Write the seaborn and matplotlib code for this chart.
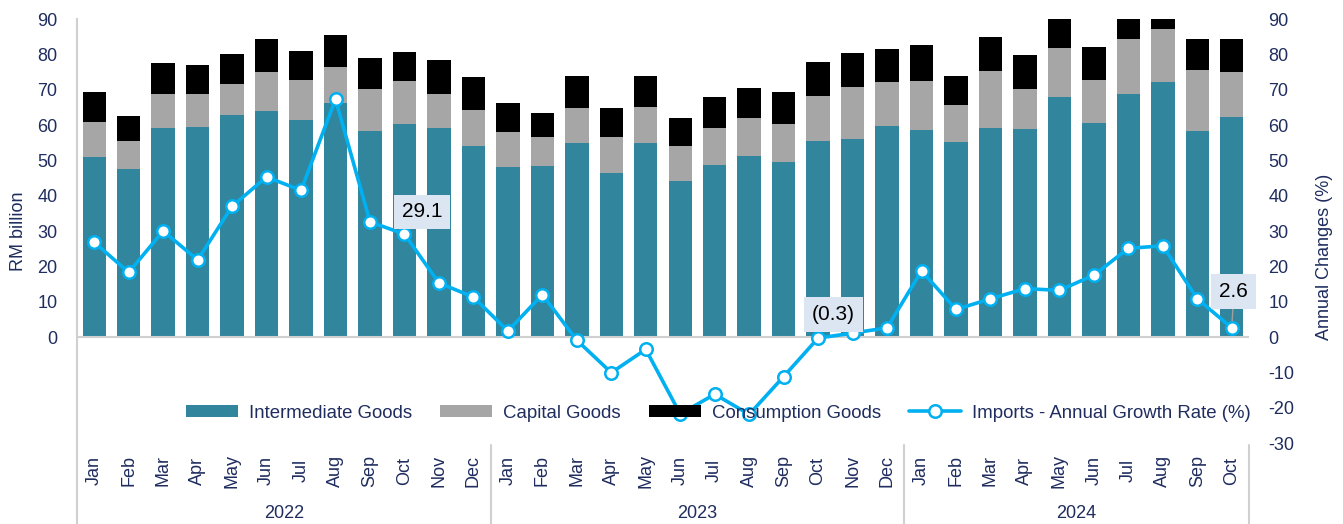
import matplotlib
matplotlib.use("Agg")
import matplotlib.pyplot as plt
import matplotlib.transforms as mtransforms
from matplotlib.patches import Patch
from matplotlib.lines import Line2D
import numpy as np
import pandas as pd
import seaborn as sns

# ---------------- data ----------------
months = ["Jan", "Feb", "Mar", "Apr", "May", "Jun", "Jul", "Aug", "Sep", "Oct", "Nov", "Dec",
          "Jan", "Feb", "Mar", "Apr", "May", "Jun", "Jul", "Aug", "Sep", "Oct", "Nov", "Dec",
          "Jan", "Feb", "Mar", "Apr", "May", "Jun", "Jul", "Aug", "Sep", "Oct"]
years = ["2022", "2023", "2024"]
year_counts = [12, 12, 10]

intermediate = [51.0, 47.5, 59.2, 59.5, 62.8, 63.9, 61.5, 66.2, 58.4, 60.3, 59.2, 54.1,
                48.2, 48.5, 55.0, 46.5, 55.0, 44.2, 48.8, 51.3, 49.5, 55.6, 55.9, 59.8,
                58.6, 55.3, 59.2, 59.0, 67.9, 60.7, 68.9, 72.2, 58.4, 62.4]
capital = [9.9, 8.0, 9.5, 9.3, 8.9, 11.1, 11.2, 10.2, 11.7, 12.1, 9.7, 10.1,
           9.7, 8.0, 9.7, 10.1, 10.0, 9.8, 10.4, 10.8, 10.9, 12.7, 14.8, 12.4,
           13.8, 10.3, 16.2, 11.1, 14.0, 12.0, 15.3, 14.9, 17.1, 12.5]
consumption = [8.5, 7.0, 8.8, 8.3, 8.5, 9.3, 8.3, 9.1, 8.8, 8.4, 9.5, 9.3,
               8.2, 7.0, 9.3, 8.1, 8.8, 8.0, 8.7, 8.4, 8.8, 9.4, 9.7, 9.2,
               10.2, 8.4, 9.4, 9.7, 10.5, 9.3, 10.0, 9.5, 8.8, 9.4]
growth = [26.8, 18.3, 30.0, 21.8, 37.0, 45.3, 41.5, 67.3, 32.6, 29.1, 15.3, 11.3,
          1.7, 12.0, -0.9, -10.1, -3.5, -21.8, -16.2, -21.9, -11.2, -0.3, 1.1, 2.6,
          18.7, 7.8, 10.8, 13.7, 13.2, 17.5, 25.1, 25.8, 10.8, 2.6]
annotated = {9: "29.1", 21: "(0.3)", 33: "2.6"}

series_names = ["Intermediate Goods", "Capital Goods", "Consumption Goods",
                "Imports - Annual Growth Rate (%)"]

# ---------------- style ----------------
C_TEAL = "#31859C"
C_GRAY = "#A6A6A6"
C_BLACK = "#000000"
C_LINE = "#00B0F0"
C_TEXT = "#1F2D5F"
C_AXIS = "#D0D0D0"

sns.set_theme(style="white")
plt.rcParams["font.family"] = ["Liberation Sans", "DejaVu Sans"]
plt.rcParams["font.size"] = 13
plt.rcParams["axes.unicode_minus"] = False

idx = np.arange(len(months))
df = pd.DataFrame({
    "idx": idx,
    "inter": intermediate,
    "cap": capital,
    "cons": consumption,
    "growth": growth,
})
df["top2"] = df["inter"] + df["cap"]
df["top3"] = df["top2"] + df["cons"]

W, H = 1343, 524
fig = plt.figure(figsize=(W / 100, H / 100), dpi=100)
left_px, right_px, top_px, bot_px = 77, 1249, 19, 443
ax = fig.add_axes([left_px / W, 1 - bot_px / H, (right_px - left_px) / W, (bot_px - top_px) / H])

# stacked bars (overlaid cumulative totals)
bw = 0.68
sns.barplot(data=df, x="idx", y="top3", color=C_BLACK, saturation=1, width=bw, ax=ax, linewidth=0)
sns.barplot(data=df, x="idx", y="top2", color=C_GRAY, saturation=1, width=bw, ax=ax, linewidth=0)
sns.barplot(data=df, x="idx", y="inter", color=C_TEAL, saturation=1, width=bw, ax=ax, linewidth=0)

ax.set_xlim(-0.5, len(months) - 0.5)
ax.set_ylim(-30, 90)
ax.set_yticks(np.arange(0, 91, 10))
ax.tick_params(axis="y", length=0, pad=14, labelsize=13, labelcolor=C_TEXT)
ax.set_ylabel("RM billion", fontsize=13, color=C_TEXT)
ax.yaxis.set_label_coords(-0.0425, 0.5)
ax.set_xlabel("")

ax.set_xticks(idx)
ax.set_xticklabels(months, rotation=90, va="center", ha="center", fontsize=13, color=C_TEXT)
ax.tick_params(axis="x", length=0, pad=20)

for s in ["top", "right", "bottom"]:
    ax.spines[s].set_visible(False)
ax.spines["left"].set_color(C_AXIS)
ax.spines["left"].set_linewidth(1.5)
ax.axhline(0, color=C_AXIS, lw=1.5, zorder=1)

# category group separators and year labels
trans = mtransforms.blended_transform_factory(ax.transData, ax.transAxes)
bounds = np.concatenate([[0], np.cumsum(year_counts)]) - 0.5
for b in bounds:
    ax.plot([b, b], [-0.005 if b > -0.5 else 0, -0.195], transform=trans, color=C_AXIS,
            lw=1.5, clip_on=False)
for i, yr in enumerate(years):
    mid = (bounds[i] + bounds[i + 1]) / 2
    ax.text(mid, -0.167, yr, transform=trans, ha="center", va="center", fontsize=13, color=C_TEXT)

# growth line on secondary axis
ax2 = ax.twinx()
sns.lineplot(data=df, x="idx", y="growth", ax=ax2, color=C_LINE, linewidth=2.6,
             marker="o", markersize=9, markerfacecolor="white", markeredgecolor=C_LINE,
             markeredgewidth=1.8, zorder=5)
ax2.set_ylim(-30, 90)
ax2.set_yticks(np.arange(-30, 91, 10))
ax2.tick_params(axis="y", length=0, pad=14, labelsize=13, labelcolor=C_TEXT)
ax2.set_ylabel("Annual Changes (%)", fontsize=13, color=C_TEXT)
ax2.yaxis.set_label_coords(1.057, 0.44)
ax2.set_xlabel("")
for s in ["top", "right", "bottom", "left"]:
    ax2.spines[s].set_visible(False)
ax2.set_xlim(-0.5, len(months) - 0.5)

# data labels
offsets = {9: (12.5, 16), 21: (11, 17), 33: (1.5, 26)}
for i, lab in annotated.items():
    kw = {}
    if i == 33:
        kw["arrowprops"] = dict(arrowstyle="-", color="#A0A0A0", lw=1, shrinkA=0, shrinkB=5)
    ax2.annotate(lab, xy=(i, growth[i]), xytext=offsets[i], textcoords="offset points",
                 ha="center", va="center", fontsize=15, color="black", zorder=6,
                 bbox=dict(boxstyle="square,pad=0.38", fc="#DCE6F2", ec="none"), **kw)

# legend
handles = [
    Patch(facecolor=C_TEAL, edgecolor="none"),
    Patch(facecolor=C_GRAY, edgecolor="none"),
    Patch(facecolor=C_BLACK, edgecolor="none"),
    Line2D([0], [0], color=C_LINE, lw=2.6, marker="o", markersize=9,
           markerfacecolor="white", markeredgecolor=C_LINE, markeredgewidth=1.8),
]
leg = ax2.legend(handles, series_names, ncol=4, frameon=False,
                 loc="center", bbox_to_anchor=(0.535, 1 - 413 / H), bbox_transform=fig.transFigure,
                 fontsize=13.4, handlelength=2.8, handleheight=0.55, handletextpad=0.6,
                 columnspacing=1.5, labelcolor=C_TEXT)
leg.set_zorder(10)

fig.savefig("out.png", dpi=100)
